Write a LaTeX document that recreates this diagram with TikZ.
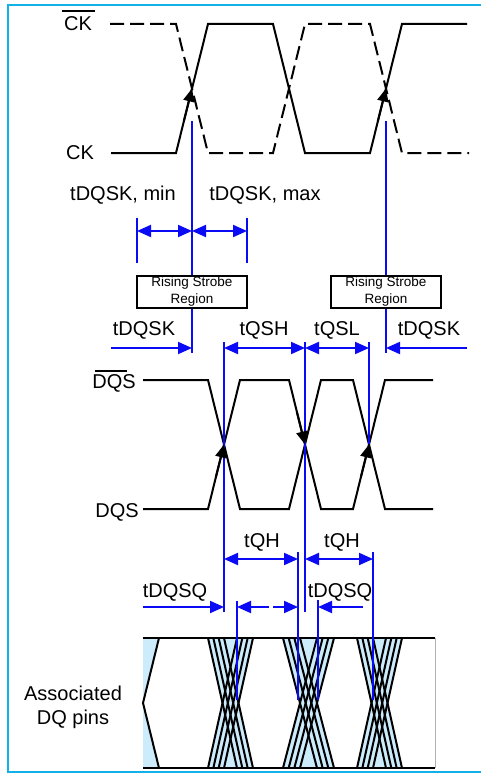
\documentclass[tikz,border=0pt]{standalone}
\usepackage{fontspec}
\setmainfont{Liberation Sans}
\usetikzlibrary{arrows.meta,calc}
\definecolor{framec}{RGB}{20,176,232}
\definecolor{dimblue}{RGB}{10,10,245}
\definecolor{eyefill}{RGB}{204,236,252}
\tikzset{
  wave/.style={line width=2pt, line join=miter},
  dwave/.style={wave, dash pattern=on 14pt off 6pt},
  dimline/.style={dimblue, line width=2pt},
  dimarr/.style={dimline, -{Triangle[length=14pt,width=12pt]}},
  dimdbl/.style={dimline, {Triangle[length=14pt,width=12pt]}-{Triangle[length=14pt,width=12pt]}},
  lbl/.style={font=\fontsize{20}{24}\selectfont, inner sep=0pt},
  sbox/.style={draw, line width=1.3pt, fill=white, minimum width=110pt, minimum height=32pt,
               align=center, font=\fontsize{13.5}{17}\selectfont, inner sep=0pt},
  crossarr/.style={line width=2pt, -{Triangle[length=13pt,width=11pt]}},
  ovl/.style={line width=1.5pt},
}
\begin{document}
\begin{tikzpicture}[x=1pt,y=-1pt]
\useasboundingbox (0,0) rectangle (481,773);
% frame
\draw[framec, line width=2.5pt] (481,5) -- (8,5) -- (8,772) -- (481,772);

% ---------------- CK ----------------
\node[lbl] (ckb) at (78,24) {CK};
\draw[ovl] (62,11) -- (95,11);
\node[lbl] (ck) at (80,153) {CK};
\draw[dwave] (110,24) -- (176,24) -- (208,153) -- (273,153) -- (305,24) -- (370,24) -- (402,153) -- (469,153);
\draw[wave] (111,153) -- (176,153) -- (208,24) -- (273,24) -- (305,153) -- (370,153) -- (402,24) -- (467,24);
\coordinate (ckx1) at (192,88.5);
\coordinate (ckx3) at (386,88.5);
\draw[crossarr] (183.9,121) -- (ckx1);
\draw[crossarr] (377.9,121) -- (ckx3);

% blue reference lines from CK
\coordinate (v1t) at (192,121); \coordinate (v1b) at (192,353);
\coordinate (v2t) at (386,121); \coordinate (v2b) at (386,353);
\draw[dimline] (v1t) -- (v1b);
\draw[dimline] (v2t) -- (v2b);

% tDQSK min / max
\node[lbl] (tmin) at (123,195) {tDQSK, min};
\node[lbl] (tmax) at (265,195) {tDQSK, max};
\coordinate (k1t) at (137,218); \coordinate (k1b) at (137,263);
\coordinate (k2t) at (247,218); \coordinate (k2b) at (247,263);
\draw[dimline] (k1t) -- (k1b);
\draw[dimline] (k2t) -- (k2b);
\coordinate (m1) at (137,231); \coordinate (m2) at (192,231); \coordinate (m3) at (247,231);
\draw[dimdbl] (m1) -- (m2);
\draw[dimdbl] (m2) -- (m3);

% strobe boxes
\node[sbox] (rs1) at (192,292) {Rising Strobe\\Region};
\node[sbox] (rs2) at (386,292) {Rising Strobe\\Region};

% ---------------- DQS ----------------
\node[lbl] (dqsb) at (114,383) {DQS};
\draw[ovl] (95,371) -- (127,371);
\node[lbl] (dqs) at (117,512) {DQS};
\draw[wave] (143,380) -- (208,380) -- (240,509) -- (289,509) -- (321,380) -- (353,380) -- (385,509) -- (433,509);
\draw[wave] (143,509) -- (208,509) -- (240,380) -- (289,380) -- (321,509) -- (353,509) -- (385,380) -- (433,380);
\coordinate (dx1) at (224,444.5);
\coordinate (dx2) at (305,444.5);
\coordinate (dx3) at (369,444.5);

% blue verticals at DQS edges
\coordinate (q1t) at (224,342); \coordinate (q1b) at (224,612);
\coordinate (q2t) at (305,342); \coordinate (q2b) at (305,612);
\coordinate (q3t) at (369,342); \coordinate (q3b) at (369,444);
\draw[dimline] (q1t) -- (q1b);
\draw[dimline] (q2t) -- (q2b);
\draw[dimline] (q3t) -- (q3b);

\draw[crossarr] (215.9,477) -- (dx1);
\draw[crossarr] (296.9,412) -- (dx2);
\draw[crossarr] (360.9,477) -- (dx3);

% row: tDQSK tQSH tQSL tDQSK
\node[lbl] (l1) at (144,330) {tDQSK};
\node[lbl] (l2) at (264,330) {tQSH};
\node[lbl] (l3) at (337,330) {tQSL};
\node[lbl] (l4) at (429,330) {tDQSK};
\coordinate (r0) at (111,348); \coordinate (r1) at (192,348);
\coordinate (r2) at (224,348); \coordinate (r3) at (305,348);
\coordinate (r4) at (369,348); \coordinate (r5) at (386,348);
\coordinate (r6) at (467,348);
\draw[dimarr] (r0) -- (r1);
\draw[dimdbl] (r2) -- (r3);
\draw[dimdbl] (r3) -- (r4);
\draw[dimarr] (r6) -- (r5);

% tQH
\node[lbl] (qh1) at (262,542) {tQH};
\node[lbl] (qh2) at (342,542) {tQH};
\coordinate (h1) at (224,559); \coordinate (h2) at (298,559);
\coordinate (h3) at (305,559); \coordinate (h4) at (373,559);
\draw[dimdbl] (h1) -- (h2);
\draw[dimdbl] (h3) -- (h4);

% tDQSQ
\node[lbl] (sq1) at (175,592) {tDQSQ};
\node[lbl] (sq2) at (340,592) {tDQSQ};
\coordinate (s0) at (143,607); \coordinate (s1) at (224,607);
\coordinate (s2) at (269,607); \coordinate (s3) at (237,607);
\coordinate (s4) at (273,607); \coordinate (s5) at (298,607);
\coordinate (s6) at (363,607); \coordinate (s7) at (318,607);
\draw[dimarr] (s0) -- (s1);
\draw[dimarr] (s2) -- (s3);
\draw[dimarr] (s4) -- (s5);
\draw[dimarr] (s6) -- (s7);

% ---------------- DQ pins ----------------
\node[lbl, align=center] (dqp) at (73,707) {Associated\\DQ pins};
\fill[eyefill] (143,638) -- (159,638) -- (143,703) -- (159,768) -- (143,768) -- cycle;
\draw[wave] (159,638) -- (143,703) -- (159,768);
\foreach \L/\s/\d in {208/29/5.333, 283/34/5.667, 357/29/5.333} {
  \fill[eyefill] (\L,638) -- ({\L+\s+3*\d},638) -- ({\L+3*\d+\s/2},703)
     -- ({\L+\s+3*\d},768) -- (\L,768) -- ({\L+\s/2},703) -- cycle;
  \foreach \i in {0,1,2,3} {
    \draw[wave] ({\L+\i*\d},638) -- ({\L+\i*\d+\s},768);
    \draw[wave] ({\L+\i*\d+\s},638) -- ({\L+\i*\d},768);
  }
}
\draw[wave] (143,638) -- (435,638);
\draw[wave] (143,768) -- (435,768);
\draw[black!30, line width=1pt] (435,638) -- (435,768);

% blue lines into DQ eye
\coordinate (e1t) at (237,601); \coordinate (e1b) at (237,700);
\coordinate (e2t) at (298,552); \coordinate (e2b) at (298,700);
\coordinate (e3t) at (318,600); \coordinate (e3b) at (318,700);
\coordinate (e4t) at (373,552); \coordinate (e4b) at (373,700);
\draw[dimline] (e1t) -- (e1b);
\draw[dimline] (e2t) -- (e2b);
\draw[dimline] (e3t) -- (e3b);
\draw[dimline] (e4t) -- (e4b);
\end{tikzpicture}
\end{document}
